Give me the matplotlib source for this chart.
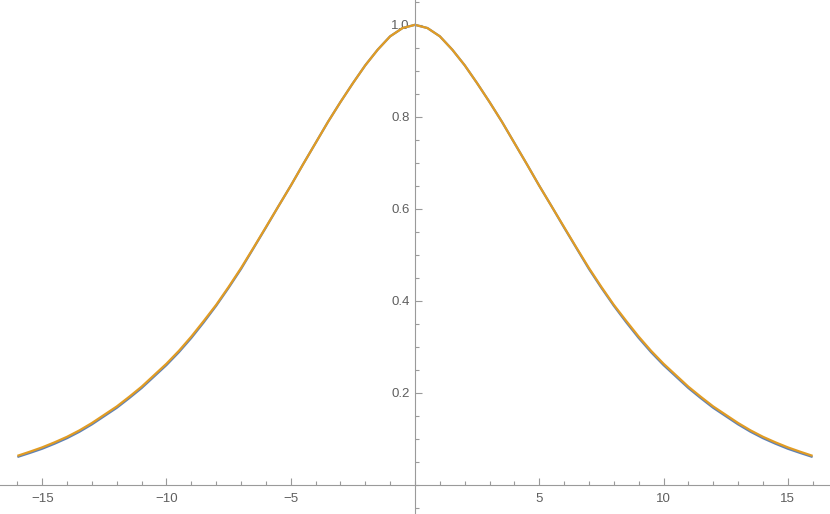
import matplotlib.pyplot as plt
from matplotlib.ticker import MultipleLocator, FixedLocator

# values (symmetric bell curve), right half
x_pos = [0, 0.5, 1, 1.5, 2, 2.5, 3, 3.5, 4, 4.5, 5, 5.5, 6, 6.5, 7, 7.5, 8, 8.5,
         9, 9.5, 10, 10.5, 11, 11.5, 12, 12.5, 13, 13.5, 14, 14.5, 15, 15.5, 16]
orange_pos = [1.000, 0.993, 0.975, 0.946, 0.912, 0.873, 0.832, 0.789, 0.743, 0.697,
              0.650, 0.605, 0.560, 0.515, 0.471, 0.430, 0.391, 0.356, 0.322, 0.291,
              0.263, 0.238, 0.213, 0.191, 0.170, 0.152, 0.134, 0.118, 0.104, 0.092,
              0.081, 0.0715, 0.0625]
blue_pos = [1.000, 0.993, 0.975, 0.946, 0.912, 0.873, 0.832, 0.789, 0.743, 0.697,
            0.650, 0.605, 0.559, 0.514, 0.469, 0.428, 0.389, 0.353, 0.319, 0.288,
            0.260, 0.235, 0.210, 0.188, 0.167, 0.149, 0.131, 0.115, 0.101, 0.089,
            0.078, 0.0688, 0.0600]

x = [-v for v in x_pos[:0:-1]] + x_pos
orange = orange_pos[:0:-1] + orange_pos
blue = blue_pos[:0:-1] + blue_pos

xticks = [-15, -10, -5, 5, 10, 15]
yticks = [0.2, 0.4, 0.6, 0.8, 1.0]

plt.rcParams['font.family'] = ['Liberation Sans', 'DejaVu Sans']

fig = plt.figure(figsize=(8.3, 5.14), dpi=100)
ax = fig.add_axes([0, 0, 1, 1])

ax.plot(x, blue, color='#5E81B5', lw=1.6, solid_capstyle='butt')
ax.plot(x, orange, color='#E19C24', lw=1.6, solid_capstyle='butt')

ax.set_xlim(-16.7, 16.7)
ax.set_ylim(-0.064, 1.054)

for s in ['top', 'right']:
    ax.spines[s].set_visible(False)
for s in ['left', 'bottom']:
    ax.spines[s].set_position(('data', 0))
    ax.spines[s].set_color('#9a9a9a')
    ax.spines[s].set_linewidth(0.8)

ax.xaxis.set_major_locator(FixedLocator(xticks))
ax.xaxis.set_minor_locator(MultipleLocator(1))
ax.yaxis.set_major_locator(FixedLocator(yticks))
ax.yaxis.set_minor_locator(MultipleLocator(0.05))
ax.set_xticklabels([str(t) if t > 0 else '\u2212' + str(-t) for t in xticks])
ax.set_yticklabels(['%.1f' % t for t in yticks])

ax.tick_params(which='both', direction='in', color='#9a9a9a', width=0.8,
               labelcolor='#5f5f5f', labelsize=9.5)
ax.tick_params(which='major', length=5)
ax.tick_params(which='minor', length=3.2)
ax.tick_params(axis='x', pad=6)
ax.tick_params(axis='y', pad=4)
ax.patch.set_visible(False)

fig.savefig('out.png', dpi=100)
